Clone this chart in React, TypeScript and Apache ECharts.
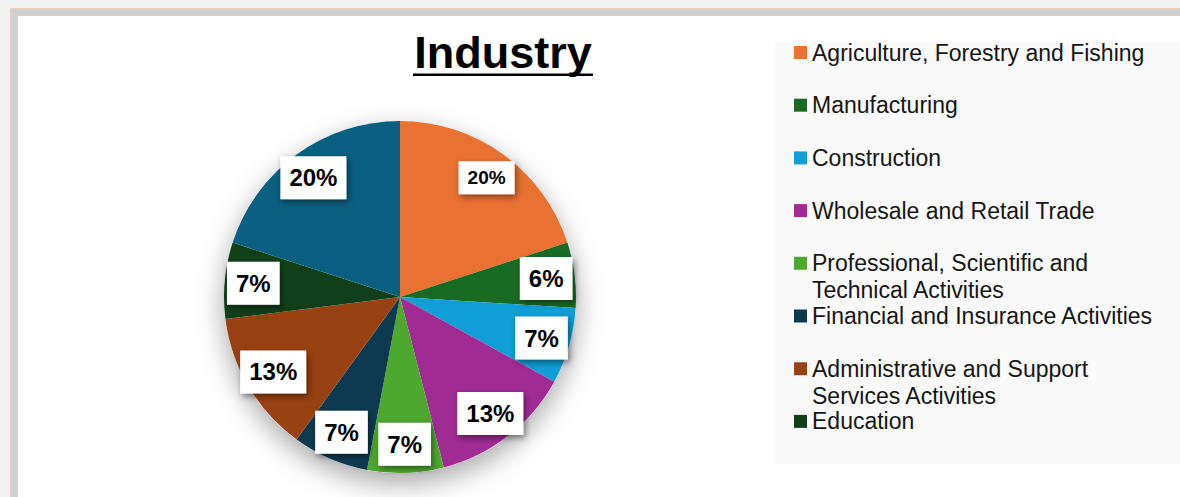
import React, { useEffect, useRef } from "react";
import * as echarts from "echarts";

// ---- data ----
const categories = [
  "Agriculture, Forestry and Fishing",
  "Manufacturing",
  "Construction",
  "Wholesale and Retail Trade",
  "Professional, Scientific and Technical Activities",
  "Financial and Insurance Activities",
  "Administrative and Support Services Activities",
  "Education",
  "Other",
];
const shares = [20, 6, 7, 13, 7, 7, 13, 7, 20];
const sliceColors = [
  "#E97132",
  "#196B24",
  "#0F9ED5",
  "#A02B93",
  "#4EA72E",
  "#0D3A50",
  "#984112",
  "#10401A",
  "#0B5F80",
];
const legendNames = categories.slice(0, 8);
const titleText = "Industry";

const FONT = "'Liberation Sans', Arial, Helvetica, sans-serif";
const LEGEND_FONT_SIZE = 23;
const LEGEND_WIDTH = 350;
const LEGEND_LINE = 27;
const MARK = 13;

export default function App() {
  const ref = useRef<HTMLDivElement | null>(null);

  useEffect(() => {
    if (!ref.current) return;
    const chart = echarts.init(ref.current, undefined, { renderer: "svg" });

    const center = [400, 297];
    const radius = 176;

    const ctx = document.createElement("canvas").getContext("2d");
    if (ctx) ctx.font = `${LEGEND_FONT_SIZE}px ${FONT}`;
    const wraps = (s: string) => (ctx ? ctx.measureText(s).width > LEGEND_WIDTH : false);

    // for wrapped entries, the marker sits beside the first line only
    const tallH = MARK + LEGEND_LINE;
    const tallIcon = `path://M0,0H${MARK}V${MARK}H0Z M0,${tallH}L0.01,${tallH}`;

    const legends = legendNames.map((name, i) => {
      const w = wraps(name);
      return {
        data: [name],
        left: 794,
        top: 39 + i * 52.7,
        orient: "vertical",
        padding: 0,
        itemWidth: MARK,
        itemHeight: w ? tallH : MARK,
        itemGap: 0,
        icon: w ? tallIcon : "rect",
        selectedMode: false,
        textStyle: {
          fontFamily: FONT,
          fontSize: LEGEND_FONT_SIZE,
          color: "#161616",
          width: LEGEND_WIDTH,
          overflow: "break",
          lineHeight: LEGEND_LINE,
        },
      };
    });

    const option = {
      animation: false,
      color: sliceColors,
      title: {
        text: titleText,
        left: 503,
        top: 30,
        padding: 0,
        textAlign: "center",
        textStyle: {
          fontFamily: FONT,
          fontSize: 45,
          fontWeight: "bold",
          color: "#000",
        },
      },
      legend: legends,
      graphic: [
        {
          type: "rect",
          z: -10,
          shape: { x: 775, y: 41, width: 405, height: 423 },
          style: { fill: "#f9f9f9" },
          silent: true,
        },
        {
          type: "rect",
          shape: { x: 413, y: 73.5, width: 180, height: 2.5 },
          style: { fill: "#000" },
          silent: true,
        },
      ],
      series: [
        {
          type: "pie",
          name: "shadow",
          center,
          radius,
          silent: true,
          label: { show: false },
          labelLine: { show: false },
          data: [{ value: 1, name: "__backing" }],
          itemStyle: {
            color: "#ffffff",
            shadowBlur: 28,
            shadowOffsetY: 10,
            shadowColor: "rgba(0,0,0,0.35)",
          },
          z: 1,
        },
        {
          type: "pie",
          name: "Industry",
          center,
          radius,
          startAngle: 90,
          clockwise: true,
          avoidLabelOverlap: false,
          label: { show: false },
          labelLine: { show: false },
          emphasis: { disabled: true },
          itemStyle: { borderWidth: 0 },
          data: categories.map((n, i) => ({ name: n, value: shares[i] })),
          z: 2,
        },
        {
          type: "pie",
          name: "labels",
          center,
          radius: [radius * 0.64, radius],
          startAngle: 90,
          clockwise: true,
          silent: true,
          avoidLabelOverlap: false,
          emphasis: { disabled: true },
          itemStyle: { color: "rgba(0,0,0,0)", borderWidth: 0 },
          labelLine: { show: false },
          label: {
            show: true,
            position: "inside",
            formatter: (p: any) => Math.round(p.percent) + "%",
            fontFamily: FONT,
            fontSize: 24,
            fontWeight: "bold",
            color: "#000",
            backgroundColor: "#ffffff",
            padding: [10, 9, 9, 9],
            shadowBlur: 6,
            shadowColor: "rgba(0,0,0,0.45)",
            shadowOffsetX: 2,
            shadowOffsetY: 3,
          },
          data: categories.map((n, i) => ({
            name: n,
            value: shares[i],
            label: i === 0 ? { fontSize: 19, padding: [7, 9, 7, 9] } : undefined,
          })),
          z: 3,
        },
      ],
    };

    chart.setOption(option as any);
    return () => chart.dispose();
  }, []);

  return (
    <div
      style={{
        position: "fixed",
        left: 0,
        top: 0,
        width: 1180,
        height: 497,
        background: "#f2f2f2",
        overflow: "hidden",
      }}
    >
      <div
        style={{
          position: "absolute",
          left: 10,
          top: 8,
          right: 0,
          bottom: 0,
          background: "#d0d0d0",
          borderLeft: "1px solid #f1cdb9",
          borderTop: "1px solid #f1cdb9",
        }}
      />
      <div
        style={{
          position: "absolute",
          left: 18,
          top: 16,
          right: 0,
          bottom: 0,
          background: "#ffffff",
        }}
      />
      <div
        ref={ref}
        style={{ position: "absolute", left: 0, top: 0, width: 1180, height: 497 }}
      />
    </div>
  );
}
